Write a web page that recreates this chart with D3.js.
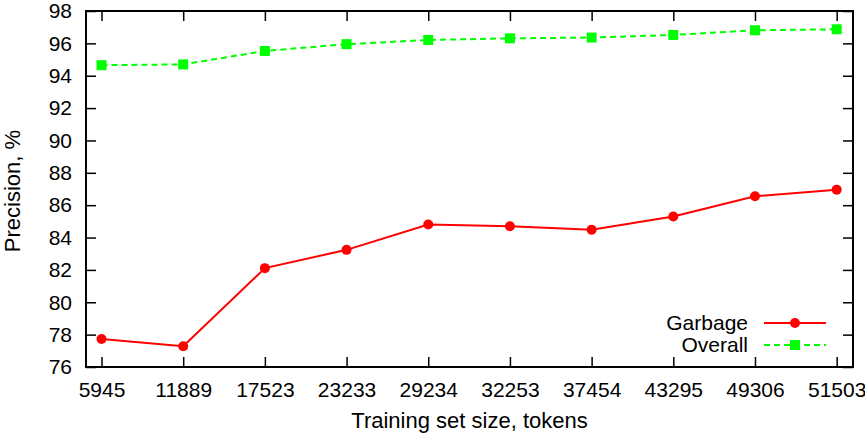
<!DOCTYPE html>
<html>
<head>
<meta charset="utf-8">
<script src="https://cdn.jsdelivr.net/npm/d3@7"></script>
<style>
  body { margin: 0; background: #fff; }
  svg { display: block; font-family: "Liberation Sans", Arial, sans-serif; }
  .axis path, .axis line { stroke: #000; }
  .axis text { font-size: 21px; fill: #000; font-family: "Liberation Sans", Arial, sans-serif; }
</style>
</head>
<body>
<svg width="865" height="438"></svg>
<script>
// data
var sizes = ["5945", "11889", "17523", "23233", "29234", "32253", "37454", "43295", "49306", "51503"];
var garbage = [77.73, 77.28, 82.11, 83.24, 84.81, 84.70, 84.48, 85.30, 86.55, 86.96];
var overall = [94.65, 94.70, 95.53, 95.95, 96.21, 96.31, 96.36, 96.52, 96.81, 96.87];
var yTicks = [76, 78, 80, 82, 84, 86, 88, 90, 92, 94, 96, 98];

var svg = d3.select("svg"),
    margin = {top: 11, right: 12, bottom: 71, left: 86},
    width = 865 - margin.left - margin.right,
    height = 438 - margin.top - margin.bottom,
    g = svg.append("g").attr("transform", "translate(" + margin.left + "," + margin.top + ")");

// x is the category index, with a bit of room either side like gnuplot
var x = d3.scaleLinear().domain([-0.19, 9.2]).range([0, width]);
var y = d3.scaleLinear().domain([76, 98]).range([height, 0]);
var idx = d3.range(sizes.length);

// bottom + top ticks (inward)
g.append("g").attr("class", "axis")
  .attr("transform", "translate(0," + height + ")")
  .call(d3.axisBottom(x).tickValues(idx).tickFormat(function (i) { return sizes[i]; })
    .tickSizeInner(-10).tickSizeOuter(0).tickPadding(15))
  .call(function (a) { a.select(".domain").remove(); });

g.append("g").attr("class", "axis")
  .call(d3.axisTop(x).tickValues(idx).tickFormat("").tickSizeInner(-10).tickSizeOuter(0))
  .call(function (a) { a.select(".domain").remove(); });

// left + right ticks
g.append("g").attr("class", "axis")
  .call(d3.axisLeft(y).tickValues(yTicks).tickSizeInner(-10).tickSizeOuter(0).tickPadding(14))
  .call(function (a) { a.select(".domain").remove(); });

g.append("g").attr("class", "axis")
  .attr("transform", "translate(" + width + ",0)")
  .call(d3.axisRight(y).tickValues(yTicks).tickFormat("").tickSizeInner(-10).tickSizeOuter(0))
  .call(function (a) { a.select(".domain").remove(); });

g.selectAll(".axis line").attr("stroke-width", 1.5);

// frame
g.append("rect")
  .attr("width", width).attr("height", height)
  .attr("fill", "none").attr("stroke", "#000").attr("stroke-width", 2);

var line = d3.line()
  .x(function (d, i) { return x(i); })
  .y(function (d) { return y(d); });

// Garbage series
g.append("path").datum(garbage)
  .attr("fill", "none").attr("stroke", "#ff0000").attr("stroke-width", 2)
  .attr("d", line);
g.selectAll(".gdot").data(garbage).enter().append("circle")
  .attr("cx", function (d, i) { return x(i); })
  .attr("cy", function (d) { return y(d); })
  .attr("r", 5).attr("fill", "#ff0000");

// Overall series
g.append("path").datum(overall)
  .attr("fill", "none").attr("stroke", "#00ff00").attr("stroke-width", 2)
  .attr("stroke-dasharray", "6,4")
  .attr("d", line);
g.selectAll(".osq").data(overall).enter().append("rect")
  .attr("x", function (d, i) { return x(i) - 5; })
  .attr("y", function (d) { return y(d) - 5; })
  .attr("width", 10).attr("height", 10).attr("fill", "#00ff00");

// legend
var legend = [
  {name: "Garbage", color: "#ff0000", dash: null, shape: "circle", y: 323},
  {name: "Overall", color: "#00ff00", dash: "6,4", shape: "square", y: 345}
];
var lg = svg.selectAll(".legend").data(legend).enter().append("g").attr("class", "legend");
lg.append("text")
  .attr("x", 748).attr("y", function (d) { return d.y; }).attr("dy", "0.35em")
  .attr("text-anchor", "end").style("font-size", "21px").text(function (d) { return d.name; });
lg.append("line")
  .attr("x1", 764).attr("x2", 826)
  .attr("y1", function (d) { return d.y; }).attr("y2", function (d) { return d.y; })
  .attr("stroke", function (d) { return d.color; }).attr("stroke-width", 2)
  .attr("stroke-dasharray", function (d) { return d.dash; });
lg.filter(function (d) { return d.shape === "circle"; }).append("circle")
  .attr("cx", 795).attr("cy", function (d) { return d.y; }).attr("r", 5)
  .attr("fill", function (d) { return d.color; });
lg.filter(function (d) { return d.shape === "square"; }).append("rect")
  .attr("x", 790).attr("y", function (d) { return d.y - 5; }).attr("width", 10).attr("height", 10)
  .attr("fill", function (d) { return d.color; });

// axis titles
svg.append("text")
  .attr("x", margin.left + width / 2).attr("y", 428)
  .attr("text-anchor", "middle").style("font-size", "22px")
  .text("Training set size, tokens");
svg.append("text")
  .attr("transform", "translate(20," + (margin.top + height / 2 + 2) + ") rotate(-90)")
  .attr("text-anchor", "middle").style("font-size", "22px")
  .text("Precision, %");
</script>
</body>
</html>
